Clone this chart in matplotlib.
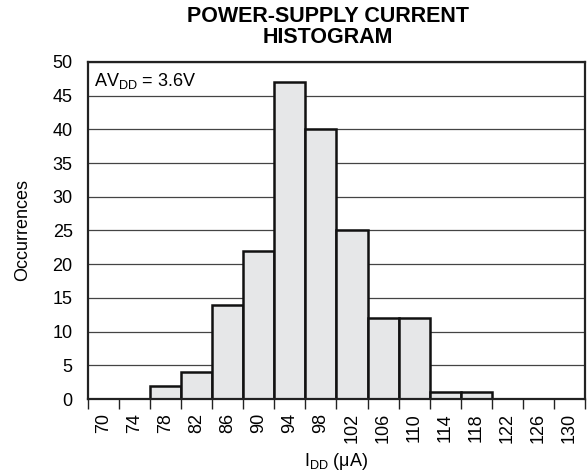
import matplotlib.pyplot as plt
import numpy as np

plt.rcParams['font.family'] = ['Liberation Sans', 'DejaVu Sans']
plt.rcParams['mathtext.fontset'] = 'custom'
plt.rcParams['mathtext.rm'] = 'Liberation Sans'
plt.rcParams['mathtext.it'] = 'Liberation Sans:italic'

# supply current bins (uA) and how many parts fell in each
bins = [70, 74, 78, 82, 86, 90, 94, 98, 102, 106, 110, 114, 118, 122, 126, 130]
counts = [0, 0, 2, 4, 14, 22, 47, 40, 25, 12, 12, 1, 1, 0, 0, 0]
yticks = [0, 5, 10, 15, 20, 25, 30, 35, 40, 45, 50]

fig = plt.figure(figsize=(5.88, 4.75), dpi=100)
ax = fig.add_axes([0.1497, 0.16, 0.845, 0.7095])

x = np.arange(len(bins))
ax.bar(x, counts, width=1.0, color='#e6e7e8', edgecolor='#111111',
       linewidth=1.8, zorder=3)

ax.set_xlim(-0.5, len(bins) - 0.5)
ax.set_ylim(0, 50)
ax.set_yticks(yticks)
ax.tick_params(axis='y', length=0, labelsize=13, pad=11)

# labels at bin centres, tick marks on the bin edges
ax.set_xticks(x)
ax.set_xticklabels([str(b) for b in bins], rotation=90, fontsize=13)
ax.tick_params(axis='x', which='major', length=0, pad=10)
ax.set_xticks(np.arange(len(bins) + 1) - 0.5, minor=True)
ax.tick_params(axis='x', which='minor', length=7.5, width=1.0,
               direction='out', color='#222222')

ax.grid(axis='y', color='#444444', linewidth=0.9, zorder=0)
ax.set_axisbelow(True)
for s in ax.spines.values():
    s.set_linewidth(1.6)
    s.set_color('#222222')
    s.set_zorder(4)

ax.text(0.012, 0.945, r'AV$_{\mathrm{DD}}$ = 3.6V', transform=ax.transAxes,
        fontsize=13, va='center', ha='left')

ax.set_ylabel('Occurrences', fontsize=13)
ax.yaxis.set_label_coords(-0.115, 0.5)
ax.set_xlabel('I$_{\\mathrm{DD}}$ (\u03bcA)', fontsize=13)
ax.xaxis.set_label_coords(0.5, -0.155)

fig.text(0.558, 0.988, 'POWER-SUPPLY CURRENT\nHISTOGRAM', ha='center',
         va='top', fontsize=15.5, fontweight='bold', linespacing=1.0)

fig.savefig('out.png', dpi=100)
